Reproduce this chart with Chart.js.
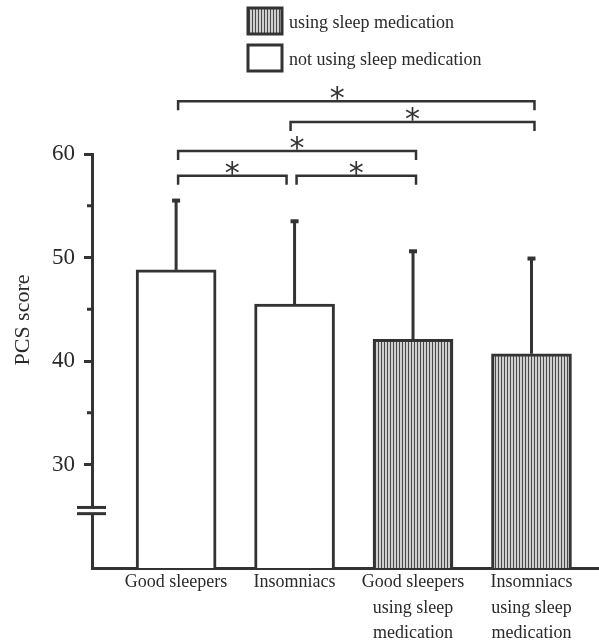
<!DOCTYPE html>
<html>
<head>
<meta charset="UTF-8">
<title>PCS score</title>
<script src="https://cdn.jsdelivr.net/npm/chart.js@4"></script>
<style>
  html, body { margin: 0; padding: 0; background: #fff; }
</style>
</head>
<body>
<canvas id="grafico" width="599" height="642"></canvas>
<script>
// datos
const categorias = [
    ["Good sleepers"],
    ["Insomniacs"],
    ["Good sleepers", "using sleep", "medication"],
    ["Insomniacs", "using sleep", "medication"]
];
const medias = [48.8, 45.5, 42.1, 40.7];
const desviaciones = [6.7, 8.0, 8.5, 9.2];
const usaMedicacion = [false, false, true, true];
const ticksY = [30, 35, 40, 45, 50, 55, 60];
const etiquetasY = [30, 40, 50, 60];
const leyenda = ["using sleep medication", "not using sleep medication"];

// comparaciones con diferencia significativa (*), nivel en unidades PCS
const comparaciones = [
    { de: 0, a: 3, nivel: 65.1, estrella: 2.36 },
    { de: 1, a: 3, nivel: 63.1, recorteIzq: -6 },
    { de: 0, a: 2, nivel: 60.3 },
    { de: 0, a: 1, nivel: 57.9, recorteDer: -11 },
    { de: 1, a: 2, nivel: 57.9 }
];

const tinta = '#333';
const fuente = '"Liberation Serif", "Times New Roman", serif';

function crearRayado() {
    const c = document.createElement('canvas');
    c.width = 3;
    c.height = 4;
    const g = c.getContext('2d');
    g.fillStyle = '#cfcfcf';
    g.fillRect(0, 0, 3, 4);
    g.fillStyle = '#4a4a4a';
    g.fillRect(0, 0, 1, 4);
    return g.createPattern(c, 'repeat');
}
const rayado = crearRayado();

const pluginExtras = {
    id: 'extras',
    afterDatasetsDraw(chart) {
        const ctx = chart.ctx;
        const x = chart.scales.x, y = chart.scales.y;
        ctx.save();
        ctx.strokeStyle = tinta;
        ctx.fillStyle = tinta;
        ctx.lineWidth = 3;
        medias.forEach((m, i) => {
            const px = x.getPixelForValue(i + 1);
            const y0 = y.getPixelForValue(m);
            const y1 = y.getPixelForValue(m + desviaciones[i]);
            ctx.beginPath();
            ctx.moveTo(px, y0);
            ctx.lineTo(px, y1);
            ctx.stroke();
            ctx.fillRect(px - 4, y1 - 2, 8, 4);
        });
        ctx.restore();
    },
    afterDraw(chart) {
        const ctx = chart.ctx;
        const x = chart.scales.x, y = chart.scales.y;
        const ejeX = chart.chartArea.left;
        ctx.save();
        ctx.strokeStyle = tinta;
        ctx.fillStyle = tinta;

        // marcas menores del eje y
        ctx.lineWidth = 3;
        ticksY.filter(v => !etiquetasY.includes(v)).forEach(v => {
            const py = y.getPixelForValue(v);
            ctx.beginPath();
            ctx.moveTo(ejeX - 5, py);
            ctx.lineTo(ejeX, py);
            ctx.stroke();
        });

        // corte del eje
        const c1 = y.getPixelForValue(25.85);
        const c2 = y.getPixelForValue(25.25);
        ctx.fillStyle = '#fff';
        ctx.fillRect(ejeX - 3, c1, 6, c2 - c1);
        ctx.fillStyle = tinta;
        ctx.lineWidth = 3;
        [c1, c2].forEach(py => {
            ctx.beginPath();
            ctx.moveTo(ejeX - 15, py);
            ctx.lineTo(ejeX + 14, py);
            ctx.stroke();
        });

        // titulo del eje y
        ctx.save();
        ctx.translate(23, 320);
        ctx.rotate(-Math.PI / 2);
        ctx.font = '22px ' + fuente;
        ctx.textAlign = 'center';
        ctx.textBaseline = 'middle';
        ctx.fillStyle = '#2a2a2a';
        ctx.fillText('PCS score', 0, 0);
        ctx.restore();

        // llaves de comparacion
        ctx.lineWidth = 2.5;
        ctx.font = '30px "DejaVu Sans", sans-serif';
        ctx.textAlign = 'center';
        ctx.textBaseline = 'alphabetic';
        const m = ctx.measureText('*');
        const asc = m.actualBoundingBoxAscent, desc = m.actualBoundingBoxDescent;
        comparaciones.forEach(c => {
            const xa = x.getPixelForValue(c.de + 1) + 2 + (c.recorteIzq || 0);
            const xb = x.getPixelForValue(c.a + 1) + 3 + (c.recorteDer || 0);
            const py = y.getPixelForValue(c.nivel);
            ctx.beginPath();
            ctx.moveTo(xa, py + 9);
            ctx.lineTo(xa, py);
            ctx.lineTo(xb, py);
            ctx.lineTo(xb, py + 9);
            ctx.stroke();
            const sx = c.estrella ? x.getPixelForValue(c.estrella) : (xa + xb) / 2;
            const cy = py - 8;
            ctx.fillText('*', sx, cy + (asc - desc) / 2);
        });

        // leyenda
        const cajas = [rayado, '#fff'];
        ctx.font = '18px ' + fuente;
        ctx.textAlign = 'left';
        ctx.textBaseline = 'middle';
        leyenda.forEach((t, i) => {
            const by = 8 + i * 37;
            ctx.fillStyle = cajas[i];
            ctx.fillRect(248, by, 34, 26);
            ctx.lineWidth = 3;
            ctx.strokeStyle = tinta;
            ctx.strokeRect(248, by, 34, 26);
            ctx.fillStyle = '#2a2a2a';
            ctx.fillText(t, 289, by + 15);
        });
        ctx.restore();
    }
};

new Chart(document.getElementById('grafico'), {
    type: 'bar',
    data: {
        datasets: [{
            data: medias.map((m, i) => ({ x: i + 1, y: m })),
            backgroundColor: usaMedicacion.map(u => u ? rayado : '#fff'),
            borderColor: tinta,
            borderWidth: 3,
            borderSkipped: false,
            barThickness: 80
        }]
    },
    options: {
        responsive: false,
        animation: false,
        layout: { padding: { top: 154, left: 0, right: 0, bottom: 0 } },
        plugins: { legend: { display: false }, tooltip: { enabled: false } },
        scales: {
            x: {
                type: 'linear',
                offset: false,
                min: 0.29,
                max: 4.57,
                afterBuildTicks: s => { s.ticks = categorias.map((c, i) => ({ value: i + 1 })); },
                afterFit: s => { s.height = 74; },
                grid: { display: false, offset: false },
                border: { display: true, color: tinta, width: 3 },
                ticks: {
                    autoSkip: false,
                    maxRotation: 0,
                    padding: -6,
                    color: '#2a2a2a',
                    font: { family: fuente, size: 18, lineHeight: 1.4 },
                    callback: v => categorias[v - 1]
                }
            },
            y: {
                min: 20,
                max: 60,
                afterBuildTicks: s => { s.ticks = ticksY.map(v => ({ value: v })); },
                afterFit: s => { s.width = 92; },
                grid: {
                    drawOnChartArea: false,
                    drawTicks: true,
                    tickLength: 8,
                    lineWidth: 3,
                    color: c => (c.tick && etiquetasY.includes(c.tick.value)) ? tinta : 'rgba(0,0,0,0)'
                },
                border: { display: true, color: tinta, width: 3 },
                ticks: {
                    padding: 9,
                    color: '#2a2a2a',
                    font: { family: fuente, size: 23 },
                    callback: v => etiquetasY.includes(v) ? String(v) : ''
                }
            }
        }
    },
    plugins: [pluginExtras]
});
</script>
</body>
</html>
